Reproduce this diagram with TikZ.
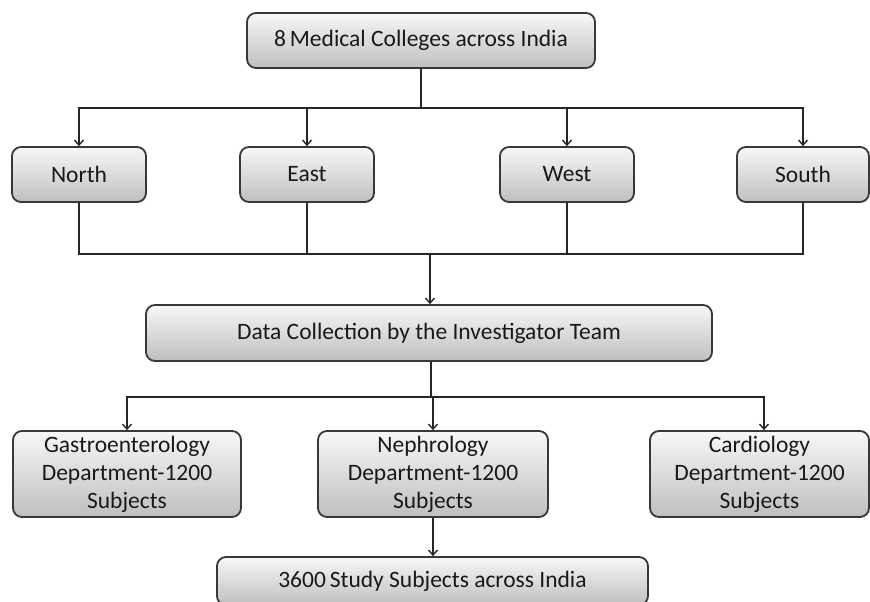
\documentclass[tikz,border=0pt]{standalone}
\usepackage{fontspec}
\setmainfont{Carlito}
\usetikzlibrary{arrows.meta}
\begin{document}
\begin{tikzpicture}[x=1pt,y=-1pt,
  box/.style={draw=black!78, line width=1.8pt, rounded corners=9pt,
    top color=black!3, bottom color=black!25, shading angle=0,
    inner sep=0pt, align=center, text=black!90,
    font=\fontsize{23.5}{28}\selectfont},
  conn/.style={draw=black!85, line width=1.8pt},
  arr/.style={conn, -{Straight Barb[length=5pt,width=9pt,line width=1.4pt]}}
]
\useasboundingbox (0,0) rectangle (870,602);
\clip (0,0) rectangle (870,602);
\fill[white] (0,0) rectangle (870,602);

% nodes
\node[box, minimum width=348, minimum height=55] (top) at (421,40.5) {8\,Medical Colleges across India};
\node[box, minimum width=134, minimum height=55] (north) at (79,174.5) {North};
\node[box, minimum width=134, minimum height=55] (east) at (307,174.5) {East};
\node[box, minimum width=134, minimum height=55] (west) at (567,174.5) {West};
\node[box, minimum width=132, minimum height=55] (south) at (803,174.5) {South};
\node[box, minimum width=566, minimum height=56] (data) at (429,333) {Data Collection by the Investigator Team};
\node[box, minimum width=228, minimum height=86] (gastro) at (127,474) {Gastroenterology\\Department-1200\\Subjects};
\node[box, minimum width=230, minimum height=86] (nephro) at (433,474) {Nephrology\\Department-1200\\Subjects};
\node[box, minimum width=219, minimum height=86] (cardio) at (759.5,474) {Cardiology\\Department-1200\\Subjects};
\node[box, minimum width=431, minimum height=48] (total) at (432.5,581) {3600\,Study Subjects across India};

% hubs
\coordinate (hubA) at (421,108);
\coordinate (hubB) at (430,254);
\coordinate (hubC) at (431,397);

% top to regions
\draw[conn] (top.south) -- (hubA);
\draw[arr] (hubA) -| (north.north);
\draw[arr] (hubA) -| (east.north);
\draw[arr] (hubA) -| (west.north);
\draw[arr] (hubA) -| (south.north);

% regions to data
\draw[conn] (north.south) |- (hubB);
\draw[conn] (east.south) |- (hubB);
\draw[conn] (west.south) |- (hubB);
\draw[conn] (south.south) |- (hubB);
\draw[arr] (hubB) -- (hubB |- data.north);

% data to departments
\draw[conn] (data.south -| hubC) -- (hubC);
\draw[arr] (hubC) -| (gastro.north);
\draw[arr] (hubC) -| (nephro.north);
\draw[arr] (hubC) -| ([xshift=4.5pt]cardio.north);

% nephrology to total
\draw[arr] (nephro.south) -- (nephro.south |- total.north);
\end{tikzpicture}
\end{document}
